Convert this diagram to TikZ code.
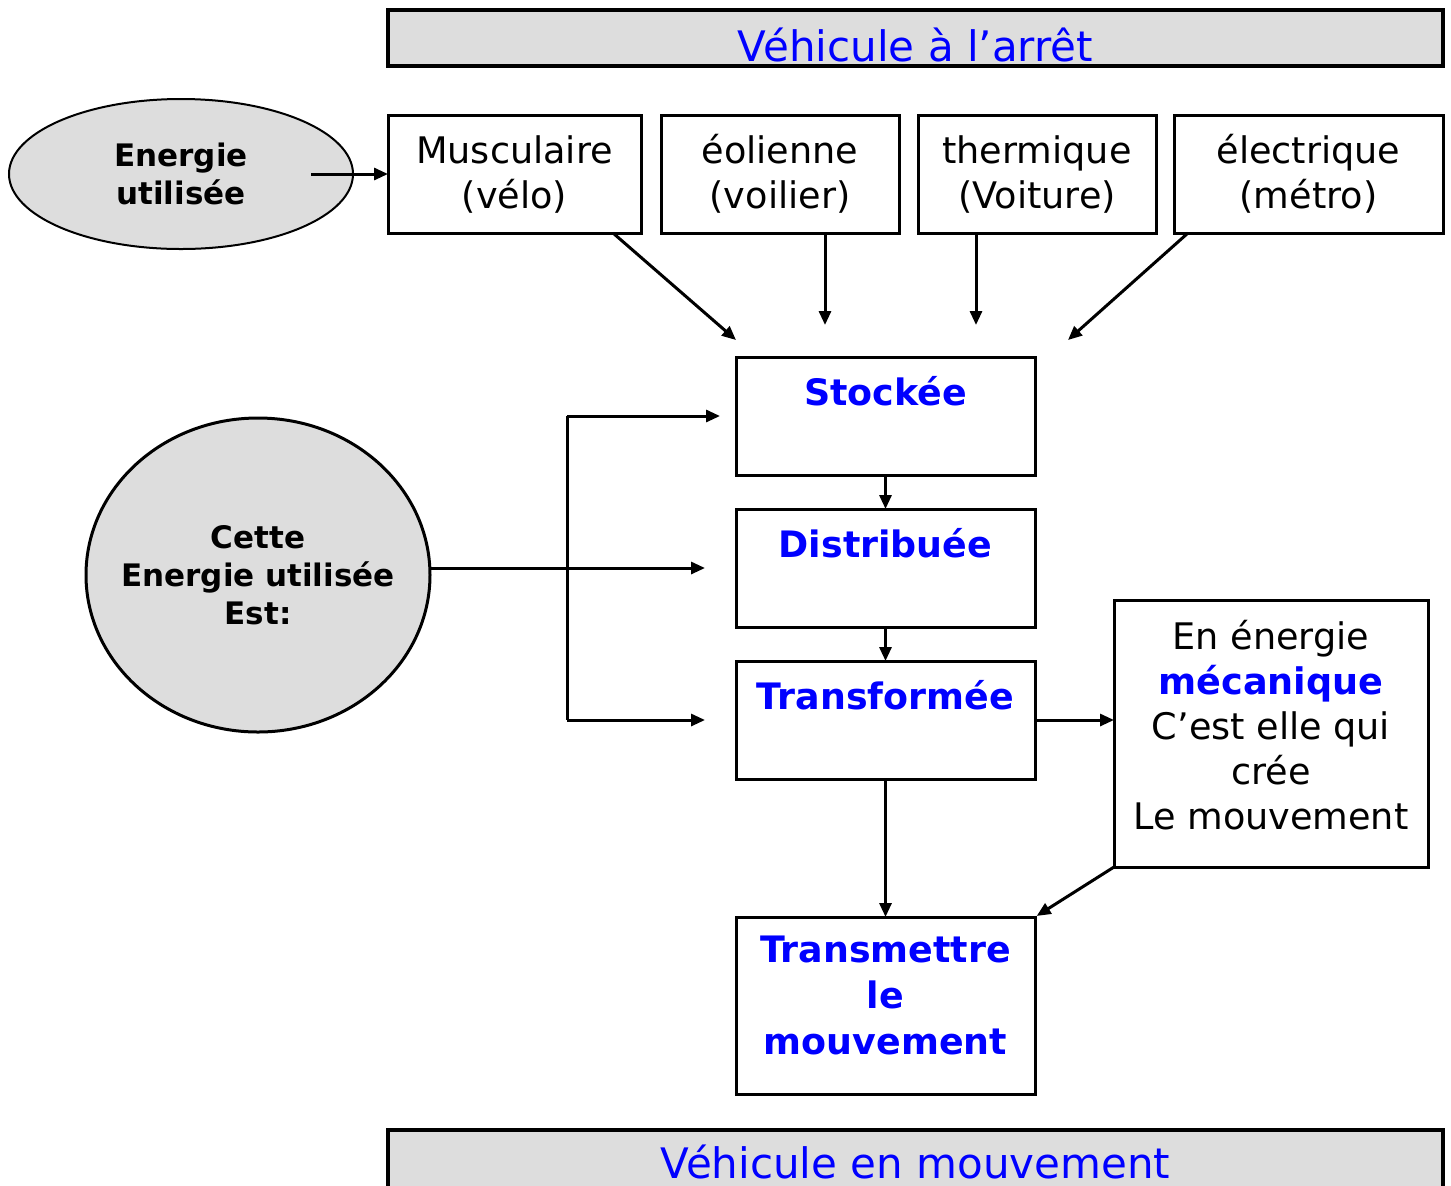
\documentclass[tikz,border=0pt]{standalone}
\usepackage{fontspec}
\setmainfont{DejaVu Sans}
\usetikzlibrary{arrows.meta, positioning, shapes.geometric, calc}
\definecolor{panelgray}{HTML}{DDDDDD}
\definecolor{stageblue}{HTML}{0000FF}
\newcommand{\Mech}[1]{\textcolor{stageblue}{\bfseries #1}}
\tikzset{
    every node/.append style={outer sep=0pt},
    banner/.style={draw, line width=2pt, fill=panelgray, text=stageblue, minimum width=527.5pt, inner ysep=0pt, font=\fontsize{21}{25}\selectfont},
    source/.style={draw, line width=1.5pt, minimum height=59pt, align=center, font=\fontsize{18.3}{22.5}\selectfont},
    stage/.style={draw, line width=1.5pt, minimum width=149.5pt, text=stageblue, font=\bfseries\fontsize{18.2}{23}\selectfont},
    toplabel/.style={text height=14pt, text depth=25pt, inner ysep=10pt},
    inlabel/.style={align=center, inner sep=0pt},
    bubble/.style={ellipse, draw, fill=panelgray, inner sep=0pt, align=center, font=\bfseries\fontsize{15.5}{19}\selectfont},
    flow/.style={-{Triangle[length=7pt,width=6pt]}, line width=1.5pt},
}
\begin{document}
\begin{tikzpicture}[x=0.5pt, y=-0.5pt]
    \useasboundingbox (0,0) rectangle (1451,1185);

    \node[banner, text height=25.5pt, text depth=2.5pt] (halt) at (915.5,38) {Véhicule à l’arrêt};

    \node[bubble, line width=1pt, minimum width=172pt, minimum height=75pt] (used) at (181,174) {Energie\\utilisée};

    \node[source, minimum width=126.5pt] (velo) at (514.5,174) {Musculaire\\(vélo)};
    \node[source, minimum width=119pt, right=10pt of velo] (voile) {éolienne\\(voilier)};
    \node[source, minimum width=119pt, right=9.5pt of voile] (auto) {thermique\\(Voiture)};
    \node[source, minimum width=134.5pt, right=9pt of auto] (metro) {électrique\\(métro)};

    \node[stage, toplabel] (stock) at (885.5,416) {Stockée};
    \node[stage, toplabel, below=17pt of stock] (distrib) {Distribuée};
    \node[stage, toplabel, below=17pt of distrib] (transf) {Transformée};
    \node[stage, minimum height=88.5pt, below=69pt of transf,
          label={[inlabel, text=stageblue, font=\bfseries\fontsize{18.2}{23}\selectfont, yshift=5pt]center:Transmettre\\le\\mouvement}] (transm) {};

    \node[draw, line width=1.5pt, minimum width=157pt, minimum height=133.5pt,
          label={[inlabel, font=\fontsize{18.3}{22.5}\selectfont, yshift=4pt]center:En énergie\\\Mech{mécanique}\\C’est elle qui\\crée\\Le mouvement}] (meca) at (1271,733.5) {};

    \node[bubble, line width=1.5pt, inner xsep=-10pt, minimum width=172pt, minimum height=157pt] (role) at (258,575) {Cette\\Energie utilisée\\Est:};

    \node[banner, text height=24pt, text depth=6pt] (move) at (915.5,1160) {Véhicule en mouvement};

    \coordinate (fork) at (567,567);

    \draw[flow] ($(used.center)+(65pt,0)$) -- (velo.west);
    \draw[flow] ($(velo.south east)+(-14pt,0)$) -- ($(stock.north west)+(0,8.5pt)$);
    \draw[flow] ($(voile.south)+(22.5pt,0)$) -- ($(voile.south |- stock.north)+(22.5pt,16pt)$);
    \draw[flow] ($(auto.south)+(-30.5pt,0)$) -- ($(auto.south |- stock.north)+(-30.5pt,16pt)$);
    \draw[flow] ($(metro.south west)+(7pt,0)$) -- ($(stock.north east)+(16.5pt,8.5pt)$);

    \draw[flow] (stock) -- (distrib);
    \draw[flow] (distrib) -- (transf);
    \draw[flow] (transf) -- (transm);
    \draw[flow] (transf.east) -- (transf.east -| meca.west);
    \draw[flow, shorten >=1pt] (meca.south west) -- (transm.north east);

    \draw[flow, shorten >=15.5pt] (role.east |- distrib.west) -- (distrib.west);
    \draw[line width=1.5pt] (fork |- stock.west) -- (fork |- transf.west);
    \draw[flow, shorten >=8pt] (fork |- stock.west) -- (stock.west);
    \draw[flow, shorten >=15.5pt] (fork |- transf.west) -- (transf.west);
\end{tikzpicture}
\end{document}
